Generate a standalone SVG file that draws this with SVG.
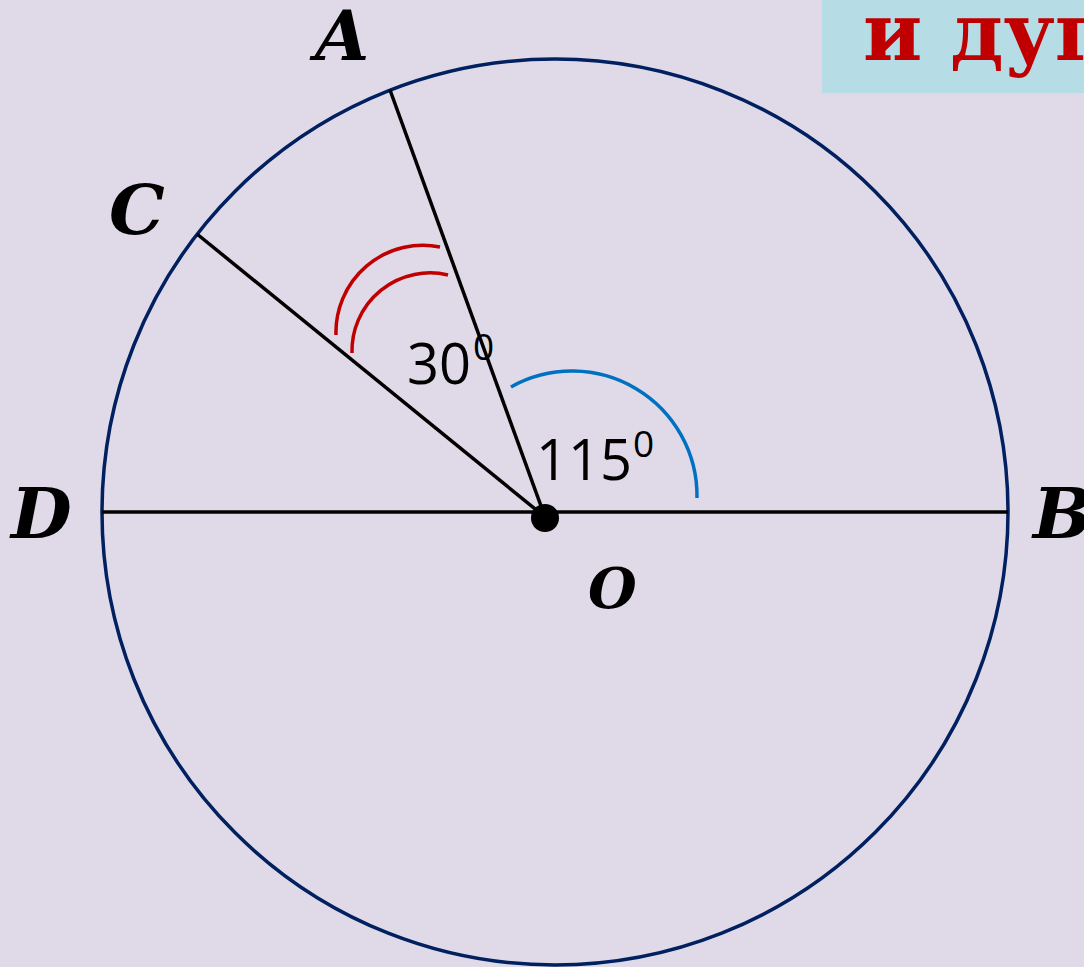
<svg xmlns="http://www.w3.org/2000/svg" width="1084" height="967" viewBox="0 0 1084 967">
<style>
.pt{font-family:"DejaVu Serif","Liberation Serif",serif;font-weight:bold;font-style:italic;font-size:70px;fill:#000}
.num{font-family:"Open Sans","Noto Sans","Liberation Sans",sans-serif;fill:#000}
.seg{stroke:#000;stroke-width:3.5;fill:none}
</style>
<rect width="1084" height="967" fill="#E0DAE8"/>
<g id="title">
<rect x="822" y="0" width="262" height="93" fill="#B6DCE6"/>
<text x="863" y="60" font-family="DejaVu Serif,Liberation Serif,serif" font-weight="bold" font-size="80" fill="#C00000">и дуги</text>
</g>
<g id="circle">
<circle cx="555" cy="512" r="453" fill="none" stroke="#002060" stroke-width="3.5"/>
</g>
<g id="connectors">
<line class="seg" x1="102" y1="512" x2="1008" y2="512"/>
<line class="seg" x1="545" y1="517" x2="390" y2="90"/>
<line class="seg" x1="545" y1="517" x2="197" y2="234"/>
</g>
<g id="angle30">
<path d="M336,335 A87,87 0 0 1 440,247" fill="none" stroke="#C00000" stroke-width="3.5"/>
<path d="M352,353 A78,78 0 0 1 448,275" fill="none" stroke="#C00000" stroke-width="3.5"/>
<text class="num" x="407" y="384" font-size="56">30</text>
<text class="num" x="473" y="360" font-size="37">0</text>
</g>
<g id="angle115">
<path d="M511,387 A125,125 0 0 1 697,498" fill="none" stroke="#0070C0" stroke-width="3.5"/>
<text class="num" x="536" y="480" font-size="56">115</text>
<text class="num" x="633" y="457" font-size="37">0</text>
</g>
<g id="O">
<circle cx="545" cy="518" r="14" fill="#000"/>
<text x="588" y="608" font-family="DejaVu Serif,Liberation Serif,serif" font-weight="bold" font-style="italic" font-size="56" fill="#000">O</text>
</g>
<g id="A"><text class="pt" x="315" y="60">A</text></g>
<g id="C"><text class="pt" x="109" y="234">C</text></g>
<g id="D"><text class="pt" x="11" y="538">D</text></g>
<g id="B"><text class="pt" x="1033" y="538">B</text></g>
</svg>
